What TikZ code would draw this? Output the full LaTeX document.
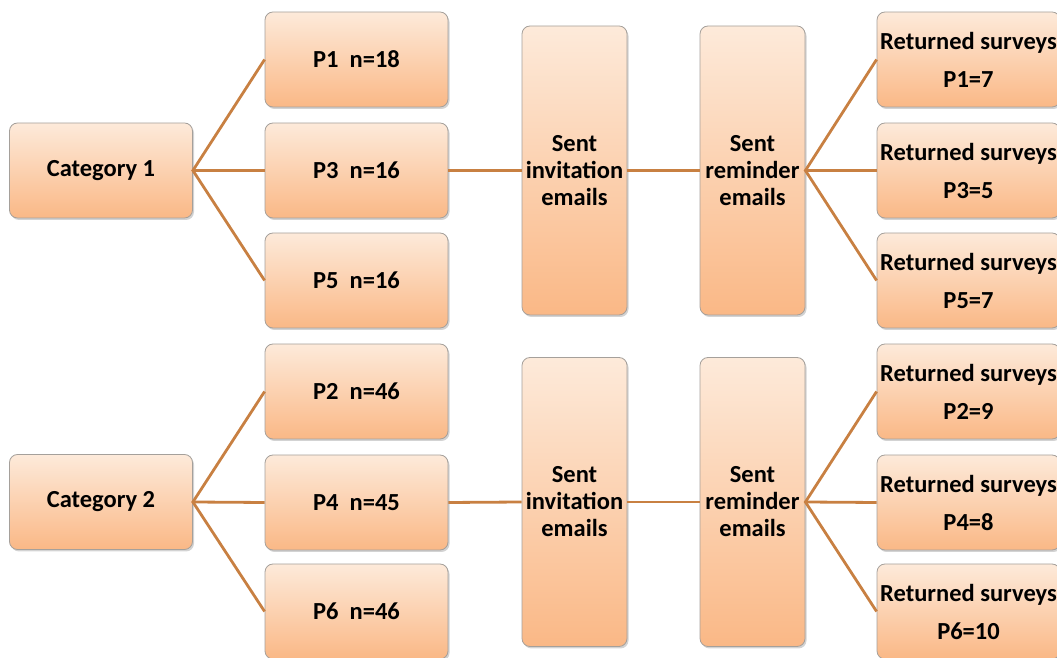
\documentclass[tikz,border=0pt]{standalone}
\usepackage{fontspec}
\setmainfont{Carlito}
\usetikzlibrary{shadows}
\definecolor{boxtop}{RGB}{253,234,218}
\definecolor{boxbot}{RGB}{250,184,134}
\definecolor{boxline}{RGB}{165,160,155}
\definecolor{conn}{RGB}{200,128,66}
\tikzset{
  box/.style={draw=boxline, line width=0.8pt, rounded corners=8pt,
    top color=boxtop, bottom color=boxbot,
    drop shadow={opacity=0.35, shadow xshift=1.5pt, shadow yshift=-2pt},
    font=\fontsize{24.5}{27}\selectfont\bfseries, align=center, inner sep=0pt},
  wide/.style={box, minimum width=183pt, minimum height=95pt},
  tall/.style={box, minimum width=105pt, minimum height=289pt},
  ret/.style={box, minimum width=183pt, minimum height=95pt},
  link/.style={draw=conn, line width=2.8pt}
}
\begin{document}
\begin{tikzpicture}[x=1pt,y=1pt]
\useasboundingbox (0,0) rectangle (1057,658);
% category 1 block
\node[wide] (c1) at (101,487.5) {Category 1};
\node[wide] (p1) at (356.5,598.5) {P1\ \ n=18};
\node[wide] (p3) at (356.5,487.5) {P3\ \ n=16};
\node[wide] (p5) at (356.5,377.5) {P5\ \ n=16};
\node[tall] (i1) at (574.5,487.5) {Sent\\invitation\\emails};
\node[tall] (r1) at (752.5,487.5) {Sent\\reminder\\emails};
\node[ret] (s1) at (968.5,598.5) {Returned surveys\\[11pt]P1=7};
\node[ret] (s3) at (968.5,487.5) {Returned surveys\\[11pt]P3=5};
\node[ret] (s5) at (968.5,377.5) {Returned surveys\\[11pt]P5=7};
% category 2 block
\node[wide] (c2) at (101,156) {Category 2};
\node[wide] (p2) at (356.5,266.5) {P2\ \ n=46};
\node[wide] (p4) at (356.5,155.5) {P4\ \ n=45};
\node[wide] (p6) at (356.5,46.5) {P6\ \ n=46};
\node[tall] (i2) at (574.5,156) {Sent\\invitation\\emails};
\node[tall] (r2) at (752.5,156) {Sent\\reminder\\emails};
\node[ret] (s2) at (968.5,266.5) {Returned surveys\\[11pt]P2=9};
\node[ret] (s4) at (968.5,155.5) {Returned surveys\\[11pt]P4=8};
\node[ret] (s6) at (968.5,46.5) {Returned surveys\\[11pt]P6=10};
% connectors
\draw[link] (p1.west) -- (c1.east) -- (p5.west);
\draw[link] (c1.east) -- (p3.west);
\draw[link] (p3.east) -- (i1.west);
\draw[link] (i1.east) -- (r1.west);
\draw[link] (s1.west) -- (r1.east) -- (s5.west);
\draw[link] (r1.east) -- (s3.west);
\draw[link] (p2.west) -- (c2.east) -- (p6.west);
\draw[link] (c2.east) -- (p4.west);
\draw[link] (p4.east) -- (i2.west);
\draw[link] (i2.east) -- (r2.west);
\draw[link] (s2.west) -- (r2.east) -- (s6.west);
\draw[link] (r2.east) -- (s4.west);
\end{tikzpicture}
\end{document}
